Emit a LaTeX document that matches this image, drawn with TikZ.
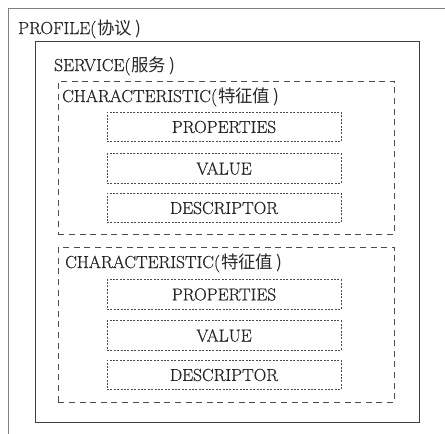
\documentclass[tikz,border=0pt]{standalone}
\usepackage{fontspec}
\setmainfont{Latin Modern Roman}[FakeBold=0.6]
\newfontfamily\cjk{Noto Sans CJK SC}
\begin{document}
\begin{tikzpicture}[x=1pt,y=-1pt,
  txt/.style={font=\fontsize{17.4}{20}\selectfont, inner sep=0pt, text=black!85},
  profilebox/.style={draw=black!50, line width=1.4pt},
  servicebox/.style={draw=black!75, line width=1.1pt},
  charbox/.style={draw=black!70, line width=0.9pt, dash pattern=on 6pt off 4.6pt},
  itembox/.style={draw=black!70, line width=0.8pt, dash pattern=on 2pt off 1.4pt,
    minimum width=234pt, minimum height=29.5pt, inner sep=0pt,
    font=\fontsize{17.4}{20}\selectfont, text=black!85}
]
\useasboundingbox (0,0) rectangle (445,434);
\clip (0,0) rectangle (445,434);
% outer profile box (runs off the right and bottom edges)
\node[profilebox, anchor=north west, minimum width=470pt, minimum height=470pt, inner sep=0pt] (profile) at (7.5,8) {};
\node[txt, anchor=base west] (profiletitle) at (18,34) {PROFILE(\kern1pt\cjk{协议}\kern3pt)};
% service box
\node[servicebox, anchor=north west, minimum width=383.5pt, minimum height=381pt, inner sep=0pt] (service) at (35,41) {};
\node[txt, anchor=base west] (servicetitle) at (54,71) {SERVICE(\kern1pt\cjk{服务}\kern3pt)};
% characteristic 1
\node[charbox, anchor=north west, minimum width=336pt, minimum height=153pt, inner sep=0pt] (charA) at (58,81) {};
\node[txt, anchor=base west] (charAtitle) at (62,102) {CHARACTERISTIC(\kern1pt\cjk{特征值}\kern3pt)};
\node[itembox] (propA) at (224,127) {PROPERTIES};
\node[itembox] (valA) at (224,168.5) {VALUE};
\node[itembox] (descA) at (224,208) {DESCRIPTOR};
% characteristic 2
\node[charbox, anchor=north west, minimum width=336pt, minimum height=155pt, inner sep=0pt] (charB) at (58,247) {};
\node[txt, anchor=base west] (charBtitle) at (65,268) {CHARACTERISTIC(\kern1pt\cjk{特征值}\kern3pt)};
\node[itembox] (propB) at (224,294.5) {PROPERTIES};
\node[itembox] (valB) at (224,335.5) {VALUE};
\node[itembox] (descB) at (224,375) {DESCRIPTOR};
\end{tikzpicture}
\end{document}
